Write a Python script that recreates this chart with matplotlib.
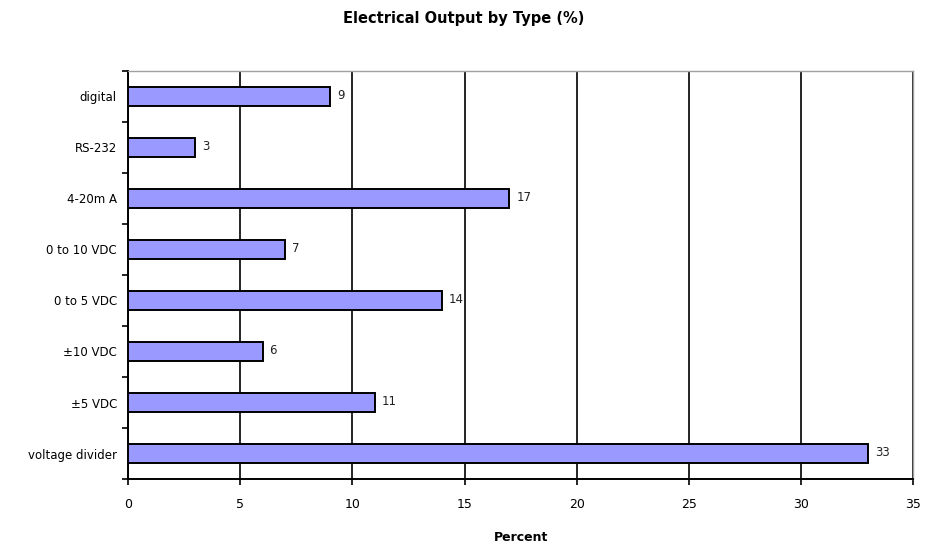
import matplotlib
matplotlib.use("Agg")
import matplotlib.pyplot as plt

categories = ["digital", "RS-232", "4-20m A", "0 to 10 VDC", "0 to 5 VDC",
              "±10 VDC", "±5 VDC", "voltage divider"]
values = [9, 3, 17, 7, 14, 6, 11, 33]
xticks = [0, 5, 10, 15, 20, 25, 30, 35]

plt.rcParams["font.family"] = ["DejaVu Sans"]

fig = plt.figure(figsize=(9.28, 5.46), dpi=100)
ax = fig.add_axes([0.138, 0.1227, 0.846, 0.7473])

pos = list(range(len(categories)))
ax.barh(pos, values, height=0.38, color="#9999ff", edgecolor="black",
        linewidth=1.4, zorder=3)
for p, v in zip(pos, values):
    ax.annotate(str(v), (v, p), xytext=(5, 1), textcoords="offset points",
                va="center", ha="left", fontsize=8.5, color="#222222")

ax.set_xlim(0, 35)
ax.set_ylim(len(categories) - 0.5, -0.5)
ax.set_xticks(xticks)
ax.set_xticklabels([str(t) for t in xticks], fontsize=9)
ax.set_yticks(pos)
ax.set_yticklabels(categories, fontsize=8.5)
ax.set_yticks([p + 0.5 for p in pos[:-1]] + [-0.5, len(categories) - 0.5], minor=True)
ax.tick_params(axis="y", which="major", length=0, pad=8)
ax.tick_params(axis="y", which="minor", length=4, width=1.2, direction="out")
ax.tick_params(axis="x", length=4, width=1.2, direction="out", pad=10)

ax.grid(axis="x", color="black", linewidth=1.2, zorder=0)
ax.set_axisbelow(True)
for s in ("left", "bottom"):
    ax.spines[s].set_linewidth(1.4)
    ax.spines[s].set_color("black")
for s in ("top", "right"):
    ax.spines[s].set_linewidth(1.0)
    ax.spines[s].set_color("#a0a0a0")

ax.set_xlabel("Percent", fontsize=9, fontweight="bold", labelpad=14)
fig.suptitle("Electrical Output by Type (%)", fontsize=10.5, fontweight="bold", y=0.98)

fig.savefig("out.png", dpi=100)
